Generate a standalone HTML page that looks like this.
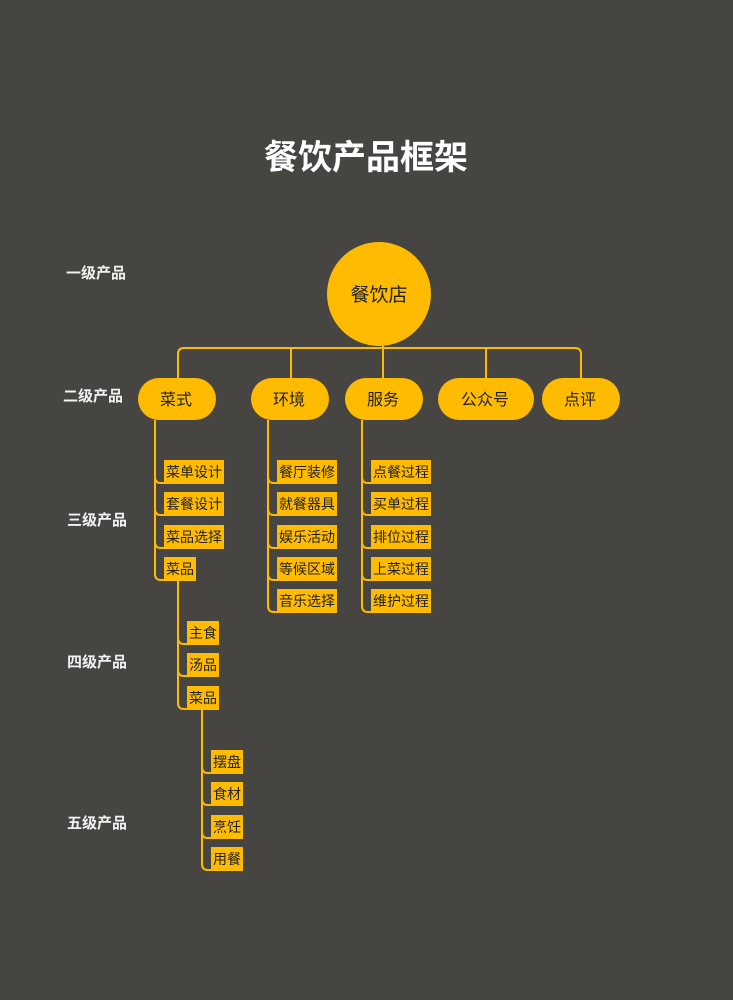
<!DOCTYPE html>
<html><head><meta charset="utf-8"><style>
html,body{margin:0;padding:0;background:#474541;}
svg{display:block;font-family:"Liberation Sans","Noto Sans CJK SC",sans-serif;}
</style></head><body>
<svg width="733" height="1000" viewBox="0 0 733 1000" xmlns="http://www.w3.org/2000/svg">
<rect width="733" height="1000" fill="#474541"/>
<text x="366" y="169" font-size="34" font-weight="bold" fill="#fff" text-anchor="middle">餐饮产品框架</text>
<g font-size="15" font-weight="bold" fill="#f2f2f2" text-anchor="middle">
<text x="96" y="278">一级产品</text>
<text x="93" y="401">二级产品</text>
<text x="97" y="525">三级产品</text>
<text x="97" y="667">四级产品</text>
<text x="97" y="828">五级产品</text>
</g>
<g fill="none" stroke="#FFBB00" stroke-width="2">
<path d="M178 378 V354 Q178 348 184 348 H575 Q581 348 581 354 V378"/>
<path d="M291 348 V378 M383 340 V378 M486 348 V378"/>
<path d="M155 420 V477 Q155 483 161 483 H164 M155 477 V509 Q155 515 161 515 H164 M155 509 V542 Q155 548 161 548 H164 M155 542 V574 Q155 580 161 580 H164"/>
<path d="M178 581 V638 Q178 644 184 644 H187 M178 638 V670 Q178 676 184 676 H187 M178 670 V703 Q178 709 184 709 H187"/>
<path d="M202 710 V767 Q202 773 208 773 H211 M202 767 V799 Q202 805 208 805 H211 M202 799 V832 Q202 838 208 838 H211 M202 832 V864 Q202 870 208 870 H211"/>
<path d="M268 420 V477 Q268 483 274 483 H277 M268 477 V509 Q268 515 274 515 H277 M268 509 V542 Q268 548 274 548 H277 M268 542 V574 Q268 580 274 580 H277 M268 574 V606 Q268 612 274 612 H277"/>
<path d="M362 420 V477 Q362 483 368 483 H371 M362 477 V509 Q362 515 368 515 H371 M362 509 V542 Q362 548 368 548 H371 M362 542 V574 Q362 580 368 580 H371 M362 574 V606 Q362 612 368 612 H371"/>
</g>
<circle cx="379" cy="294" r="52" fill="#FFBB00"/>
<text x="379" y="301" font-size="19" fill="#222" text-anchor="middle">餐饮店</text>
<g fill="#FFBB00">
<rect x="138" y="378" width="78" height="42" rx="21"/>
<rect x="251" y="378" width="78" height="42" rx="21"/>
<rect x="345" y="378" width="78" height="42" rx="21"/>
<rect x="438" y="378" width="96" height="42" rx="21"/>
<rect x="542" y="378" width="78" height="42" rx="21"/>
</g>
<g font-size="16" fill="#222" text-anchor="middle">
<text x="176" y="405">菜式</text>
<text x="289" y="405">环境</text>
<text x="383" y="405">服务</text>
<text x="485" y="405">公众号</text>
<text x="580" y="405">点评</text>
</g>
<g fill="#FFBB00">
<rect x="164" y="460" width="60" height="24"/><rect x="164" y="492" width="60" height="24"/><rect x="164" y="525" width="60" height="24"/><rect x="164" y="557" width="32" height="24"/>
<rect x="187" y="621" width="32" height="24"/><rect x="187" y="653" width="32" height="24"/><rect x="187" y="686" width="32" height="24"/>
<rect x="211" y="750" width="32" height="24"/><rect x="211" y="782" width="32" height="24"/><rect x="211" y="815" width="32" height="24"/><rect x="211" y="847" width="32" height="24"/>
<rect x="277" y="460" width="60" height="24"/><rect x="277" y="492" width="60" height="24"/><rect x="277" y="525" width="60" height="24"/><rect x="277" y="557" width="60" height="24"/><rect x="277" y="589" width="60" height="24"/>
<rect x="371" y="460" width="60" height="24"/><rect x="371" y="492" width="60" height="24"/><rect x="371" y="525" width="60" height="24"/><rect x="371" y="557" width="60" height="24"/><rect x="371" y="589" width="60" height="24"/>
</g>
<g font-size="14" fill="#222">
<text x="166" y="477">菜单设计</text><text x="166" y="509">套餐设计</text><text x="166" y="542">菜品选择</text><text x="166" y="574">菜品</text>
<text x="189" y="638">主食</text><text x="189" y="670">汤品</text><text x="189" y="703">菜品</text>
<text x="213" y="767">摆盘</text><text x="213" y="799">食材</text><text x="213" y="832">烹饪</text><text x="213" y="864">用餐</text>
<text x="279" y="477">餐厅装修</text><text x="279" y="509">就餐器具</text><text x="279" y="542">娱乐活动</text><text x="279" y="574">等候区域</text><text x="279" y="606">音乐选择</text>
<text x="373" y="477">点餐过程</text><text x="373" y="509">买单过程</text><text x="373" y="542">排位过程</text><text x="373" y="574">上菜过程</text><text x="373" y="606">维护过程</text>
</g>
</svg>
</body></html>
